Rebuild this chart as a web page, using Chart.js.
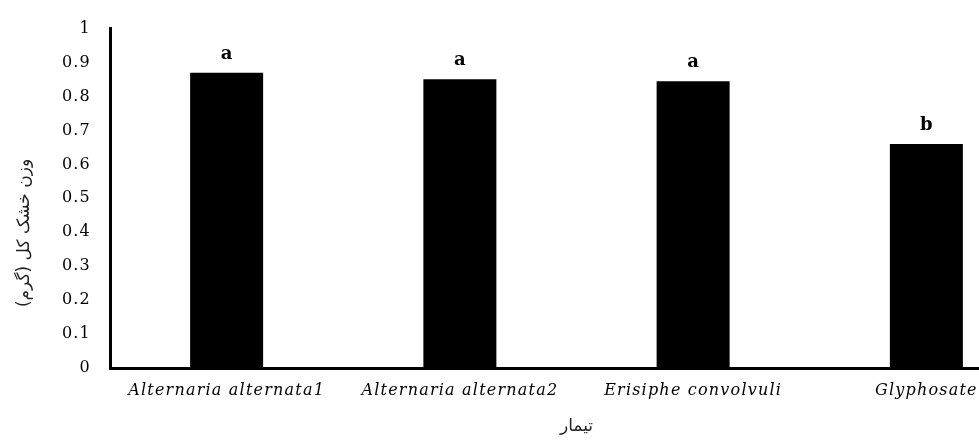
<!DOCTYPE html>
<html>
<head>
<meta charset="utf-8">
<script src="https://cdn.jsdelivr.net/npm/chart.js@4.4.1/dist/chart.umd.min.js"></script>
<style>
  html, body { margin: 0; padding: 0; background: #fff; overflow: hidden; }
  #wrap { position: relative; width: 1043px; height: 441px; }
</style>
</head>
<body>
<div id="wrap"><canvas id="chartberat"></canvas></div>
<script>
// data
var categories = ['Alternaria alternata1', 'Alternaria alternata2', 'Erisiphe convolvuli', 'Glyphosate'];
var dryWeight = [0.87, 0.851, 0.845, 0.66];
var groupLetters = ['a', 'a', 'a', 'b'];
var yTickLabels = ['0', '0.1', '0.2', '0.3', '0.4', '0.5', '0.6', '0.7', '0.8', '0.9', '1'];
var yTitle = 'وزن خشک کل (گرم)';
var xTitle = 'تیمار';

// letters above bars + spaced tick text + rotated y title
var extras = {
    id: 'extras',
    beforeDraw: function (chart) {
        chart.ctx.letterSpacing = '0px';
    },
    afterDatasetsDraw: function (chart) {
        var ctx = chart.ctx;
        var bars = chart.getDatasetMeta(0).data;
        ctx.save();
        ctx.font = 'bold 18px "DejaVu Serif"';
        ctx.fillStyle = '#000';
        ctx.textAlign = 'center';
        ctx.textBaseline = 'alphabetic';
        bars.forEach(function (bar, i) {
            ctx.fillText(groupLetters[i], bar.x, bar.y - 14);
        });
        ctx.restore();
        // tick labels (drawn after this, z:1) get the wide look
        ctx.letterSpacing = '1.2px';
    },
    afterDraw: function (chart) {
        var ctx = chart.ctx;
        ctx.letterSpacing = '0px';
        ctx.save();
        ctx.translate(25, 233);
        ctx.rotate(-Math.PI / 2);
        ctx.font = '17px "DejaVu Sans"';
        ctx.fillStyle = '#222';
        ctx.textAlign = 'center';
        ctx.textBaseline = 'middle';
        ctx.fillText(yTitle, 0, 0);
        ctx.restore();
    }
};

var ctxBar = document.getElementById('chartberat').getContext('2d');
var barChart = new Chart(ctxBar, {
    type: 'bar',
    data: {
        labels: categories,
        datasets: [{
            data: dryWeight,
            backgroundColor: '#000',
            borderWidth: 0,
            barPercentage: 0.313,
            categoryPercentage: 1
        }]
    },
    options: {
        responsive: true,
        maintainAspectRatio: false,
        animation: false,
        layout: { padding: { top: 18, left: 0, right: 0, bottom: 0 } },
        plugins: {
            legend: { display: false },
            tooltip: { enabled: false }
        },
        scales: {
            x: {
                afterFit: function (s) { s.height = 73; },
                grid: { display: false, drawTicks: false },
                border: { display: true, color: '#000', width: 3 },
                ticks: {
                    z: 1,
                    padding: 13,
                    maxRotation: 0,
                    autoSkip: false,
                    color: '#000',
                    font: { family: '"DejaVu Serif"', size: 16, style: 'italic' }
                },
                title: {
                    display: true,
                    text: xTitle,
                    color: '#222',
                    font: { family: '"DejaVu Sans"', size: 17 },
                    padding: { top: 0, bottom: 4 }
                }
            },
            y: {
                min: 0,
                max: 1,
                afterFit: function (s) { s.width = 110; },
                grid: { display: false, drawTicks: false },
                border: { display: true, color: '#000', width: 3 },
                ticks: {
                    z: 1,
                    stepSize: 0.1,
                    padding: 19,
                    color: '#000',
                    font: { family: '"DejaVu Serif"', size: 16 },
                    callback: function (v, i) { return yTickLabels[i]; }
                }
            }
        }
    },
    plugins: [extras]
});
</script>
</body>
</html>
